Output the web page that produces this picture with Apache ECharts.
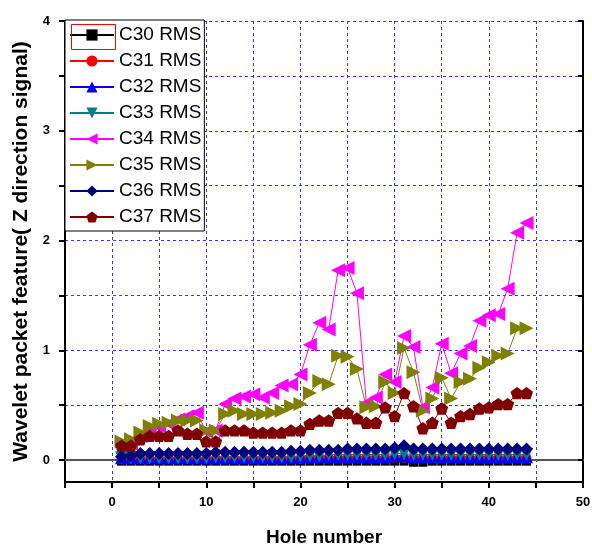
<!DOCTYPE html>
<html>
<head>
<meta charset="utf-8">
<script src="https://cdn.jsdelivr.net/npm/echarts@6/dist/echarts.min.js"></script>
<style>
  html, body { margin: 0; padding: 0; background: #fff; }
  #chart { width: 592px; height: 547px; }
</style>
</head>
<body>
<div id="chart"></div>
<script>
// hole numbers 1..44
const holes = [1, 2, 3, 4, 5, 6, 7, 8, 9, 10, 11, 12, 13, 14, 15, 16, 17, 18, 19, 20, 21, 22,
  23, 24, 25, 26, 27, 28, 29, 30, 31, 32, 33, 34, 35, 36, 37, 38, 39, 40, 41, 42, 43, 44]

const c30 = [-0.01, -0.01, -0.01, -0.01, -0.01, -0.01, -0.01, -0.01, -0.01, -0.01, -0.01,
  -0.01, -0.01, -0.01, -0.01, -0.01, -0.01, -0.01, -0.01, -0.01, -0.01, -0.01, -0.01, -0.01,
  -0.01, -0.01, -0.01, -0.01, -0.01, -0.01, -0.01, -0.02, -0.02, -0.01, -0.01, -0.01, -0.01,
  -0.01, -0.01, -0.01, -0.01, -0.01, -0.01, -0.01]
const c31 = [0.01, 0.01, 0.01, 0.01, 0.01, 0.01, 0.01, 0.01, 0.01, 0.01, 0.01, 0.01, 0.01,
  0.01, 0.01, 0.01, 0.01, 0.01, 0.01, 0.01, 0.02, 0.02, 0.02, 0.02, 0.02, 0.02, 0.02, 0.02,
  0.02, 0.02, 0.02, 0.02, 0.02, 0.02, 0.02, 0.02, 0.02, 0.02, 0.02, 0.02, 0.02, 0.02, 0.02, 0.02]
const c32 = [0.02, 0.02, 0.02, 0.02, 0.02, 0.02, 0.02, 0.02, 0.02, 0.02, 0.02, 0.02, 0.02,
  0.02, 0.02, 0.02, 0.02, 0.02, 0.02, 0.03, 0.03, 0.03, 0.03, 0.03, 0.03, 0.03, 0.03, 0.03,
  0.03, 0.04, 0.04, 0.03, 0.03, 0.03, 0.03, 0.03, 0.03, 0.03, 0.03, 0.03, 0.03, 0.03, 0.03, 0.03]
const c33 = [0.02, 0.02, 0.02, 0.02, 0.02, 0.02, 0.02, 0.02, 0.02, 0.02, 0.03, 0.03, 0.03,
  0.03, 0.03, 0.03, 0.03, 0.03, 0.03, 0.04, 0.04, 0.04, 0.05, 0.05, 0.05, 0.05, 0.05, 0.05,
  0.05, 0.06, 0.06, 0.05, 0.05, 0.05, 0.05, 0.05, 0.05, 0.05, 0.05, 0.05, 0.05, 0.05, 0.05, 0.05]
const c34 = [0.13, 0.15, 0.22, 0.28, 0.30, 0.33, 0.37, 0.40, 0.43, 0.26, 0.27, 0.51, 0.56,
  0.58, 0.60, 0.57, 0.61, 0.68, 0.69, 0.78, 1.05, 1.25, 1.19, 1.73, 1.75, 1.52, 0.52, 0.57,
  0.78, 0.71, 1.13, 1.03, 0.48, 0.66, 1.06, 0.79, 0.97, 1.04, 1.27, 1.32, 1.33, 1.56, 2.07, 2.16]
const c35 = [0.17, 0.19, 0.25, 0.31, 0.33, 0.34, 0.36, 0.36, 0.36, 0.27, 0.27, 0.42, 0.45,
  0.42, 0.42, 0.42, 0.43, 0.45, 0.49, 0.51, 0.61, 0.72, 0.69, 0.95, 0.94, 0.83, 0.48, 0.49,
  0.71, 0.61, 1.02, 0.80, 0.45, 0.56, 0.75, 0.56, 0.71, 0.74, 0.84, 0.89, 0.95, 0.97, 1.20, 1.20]
const c36 = [0.03, 0.04, 0.06, 0.06, 0.06, 0.06, 0.06, 0.06, 0.06, 0.06, 0.07, 0.07, 0.07,
  0.07, 0.07, 0.07, 0.07, 0.07, 0.08, 0.08, 0.09, 0.09, 0.09, 0.09, 0.10, 0.10, 0.10, 0.10,
  0.10, 0.11, 0.13, 0.10, 0.10, 0.10, 0.10, 0.10, 0.10, 0.10, 0.10, 0.10, 0.10, 0.10, 0.10, 0.10]
const c37 = [0.13, 0.13, 0.19, 0.22, 0.22, 0.22, 0.27, 0.24, 0.24, 0.17, 0.17, 0.27, 0.27,
  0.27, 0.25, 0.25, 0.25, 0.25, 0.27, 0.27, 0.33, 0.36, 0.36, 0.43, 0.43, 0.38, 0.34, 0.34,
  0.48, 0.40, 0.61, 0.49, 0.29, 0.34, 0.47, 0.34, 0.40, 0.42, 0.47, 0.48, 0.51, 0.51, 0.61, 0.61]

const names = ['C30 RMS', 'C31 RMS', 'C32 RMS', 'C33 RMS', 'C34 RMS', 'C35 RMS', 'C36 RMS', 'C37 RMS']
const values = [c30, c31, c32, c33, c34, c35, c36, c37]
const colors = ['#000000', '#ff0000', '#0000ff', '#008080', '#ff00ff', '#808000', '#000080', '#800000']

const yTicks = [0, 0.5, 1, 1.5, 2, 2.5, 3, 3.5, 4]
const yLabels = [0, 1, 2, 3, 4]

const pentagon = 'path://M0,-10 L9.51,-3.09 L5.88,8.09 L-5.88,8.09 L-9.51,-3.09 Z'
const symbols = ['rect', 'circle', 'triangle', 'triangle', 'triangle', 'triangle', 'diamond', pentagon]
const rotates = [0, 0, 0, 180, 90, -90, 0, 0]
const sizes = [9, 10, 13, 13, 14, 14, 13, 13]

const font = 'Arial, "Liberation Sans", sans-serif'

const chart = echarts.init(document.getElementById('chart'))
chart.setOption({
  animation: false,
  grid: { left: 65, right: 9, top: 21, bottom: 65, outerBoundsMode: 'none' },
  legend: {
    orient: 'vertical',
    left: 65,
    top: 20,
    padding: [5, 3, 4, 4],
    itemWidth: 44,
    itemHeight: 14,
    itemGap: 6,
    backgroundColor: '#fff',
    borderColor: '#000',
    borderWidth: 1,
    textStyle: { fontFamily: font, fontSize: 19, lineHeight: 20, color: '#000' },
    data: names
  },
  xAxis: [{
    type: 'value',
    min: -5,
    max: 50,
    interval: 5,
    name: 'Hole number',
    nameLocation: 'middle',
    nameGap: 46,
    nameTextStyle: { fontFamily: font, fontWeight: 'bold', fontSize: 19, color: '#000' },
    axisLine: { onZero: false, lineStyle: { color: '#000', width: 2 } },
    axisTick: { length: 6, lineStyle: { color: '#000', width: 2 } },
    axisLabel: {
      margin: 14,
      fontFamily: font, fontWeight: 'bold', fontSize: 13, color: '#000',
      formatter: v => (v % 10 === 0 && v >= 0 ? String(v) : '')
    },
    splitLine: { show: true, lineStyle: { color: '#3333ff', type: [3, 3], width: 1 } }
  }, {
    type: 'value',
    position: 'top',
    min: -5,
    max: 50,
    interval: 5,
    axisLine: { lineStyle: { color: '#555', width: 2 } },
    axisTick: { show: false },
    axisLabel: { show: false },
    splitLine: { show: false }
  }],
  yAxis: [{
    type: 'value',
    min: -0.2,
    max: 4,
    name: 'Wavelet packet feature( Z direction signal)',
    nameLocation: 'middle',
    nameGap: 29,
    nameTextStyle: { fontFamily: font, fontWeight: 'bold', fontSize: 21, color: '#000' },
    axisLine: { onZero: false, lineStyle: { color: '#000', width: 2 } },
    axisTick: { length: 6, customValues: yTicks, lineStyle: { color: '#000', width: 2 } },
    axisLabel: {
      margin: 15,
      customValues: yLabels,
      fontFamily: font, fontWeight: 'bold', fontSize: 13, color: '#000'
    },
    splitLine: { show: true, lineStyle: { color: '#3333ff', type: [3, 3], width: 1 } }
  }, {
    type: 'value',
    position: 'right',
    min: -0.2,
    max: 4,
    axisLine: { onZero: false, lineStyle: { color: '#000', width: 2 } },
    axisTick: { inside: true, length: 5, customValues: yTicks, lineStyle: { color: '#000', width: 2 } },
    axisLabel: { show: false },
    splitLine: { show: false }
  }],
  graphic: [{
    type: 'rect',
    left: 69,
    top: 22,
    shape: { width: 44, height: 25 },
    style: { fill: null, stroke: '#ff0000', lineWidth: 1 },
    z: 100
  }],
  series: names.map((name, i) => ({
    name,
    type: 'line',
    data: holes.map((h, j) => [h, values[i][j]]),
    symbol: symbols[i],
    symbolSize: sizes[i],
    symbolRotate: rotates[i],
    symbolKeepAspect: true,
    clip: false,
    color: colors[i],
    lineStyle: { width: 1, color: colors[i] },
    itemStyle: { color: colors[i] }
  }))
})
</script>
</body>
</html>
